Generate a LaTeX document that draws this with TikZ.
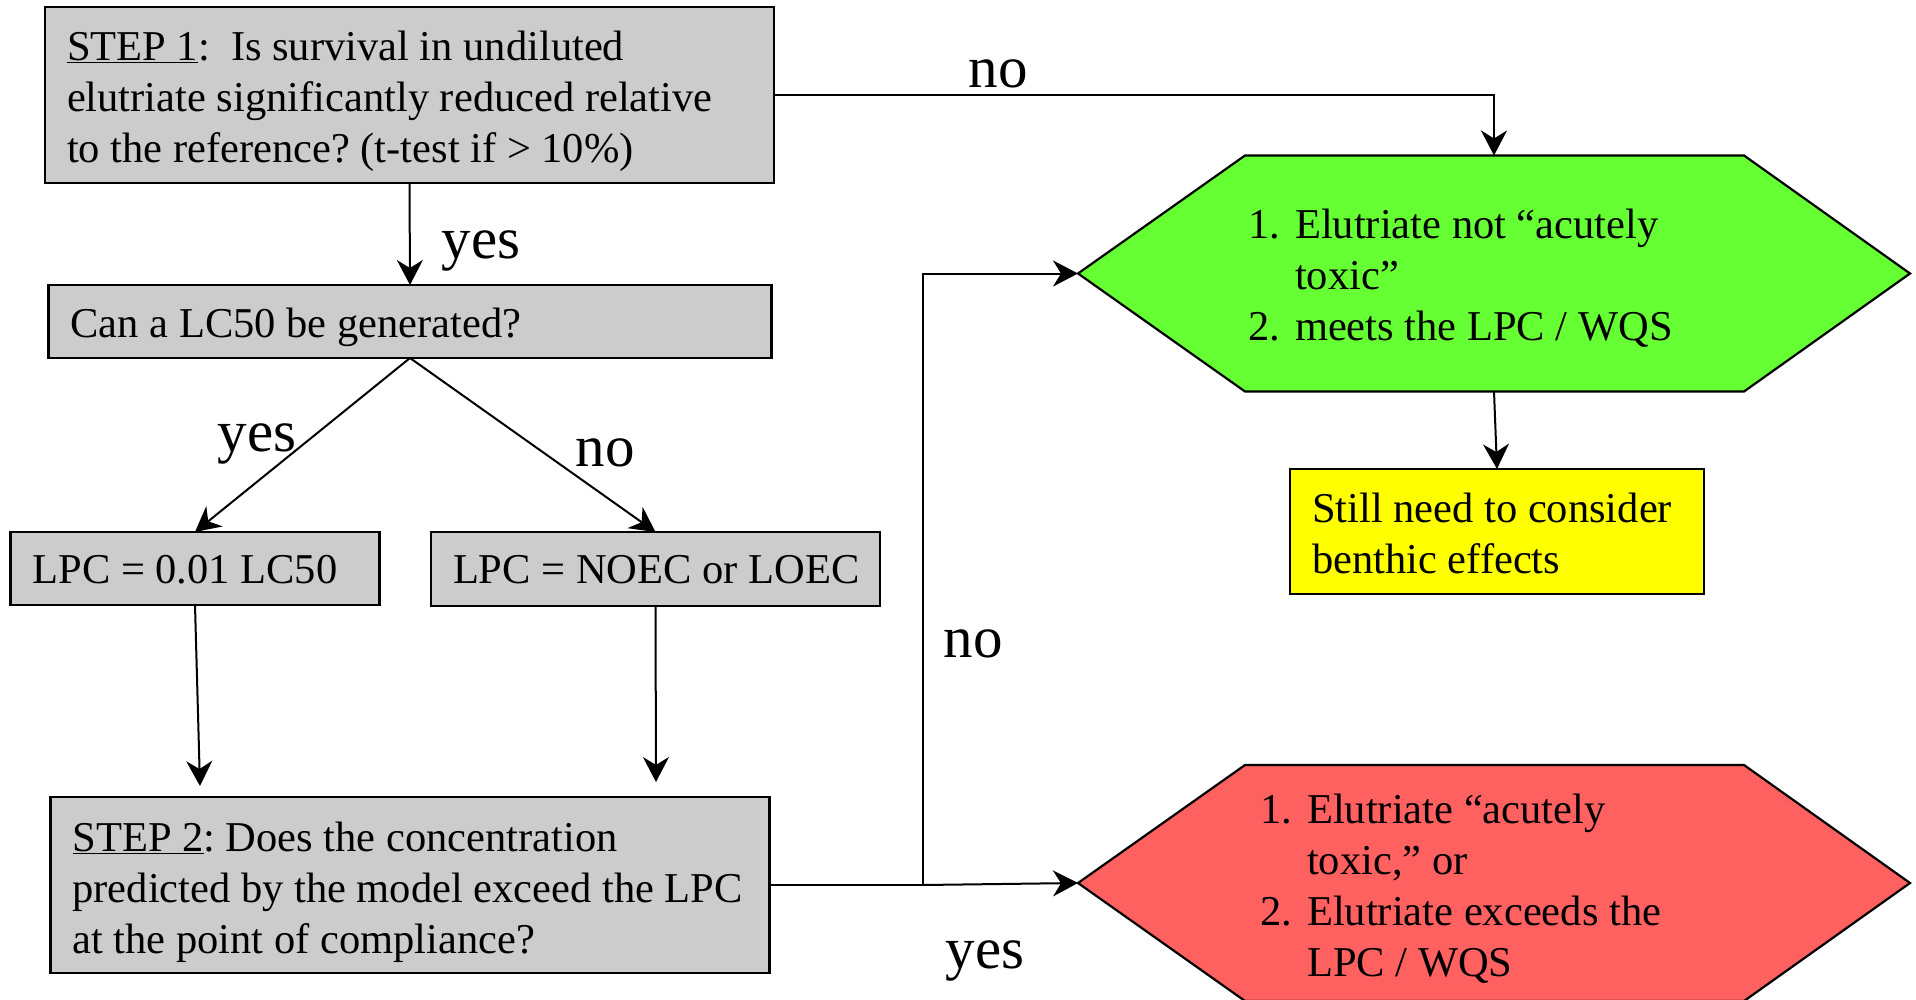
\documentclass[tikz,border=0pt]{standalone}
\usepackage{fontspec}
\setmainfont{Liberation Serif}
\usetikzlibrary{arrows.meta,calc}

\definecolor{boxgray}{HTML}{CCCCCC}
\definecolor{okgreen}{HTML}{66FF33}
\definecolor{badred}{HTML}{FF6060}
\definecolor{notey}{HTML}{FFFF00}

\begin{document}
\frenchspacing
\begin{tikzpicture}[x=1pt,y=-1pt,
  txt/.style={font=\fontsize{42.5}{51}\selectfont},
  stepbox/.style={draw, line width=2.6pt, fill=boxgray, anchor=north west,
    inner xsep=22pt, inner ysep=0pt, outer sep=0pt, align=flush left, txt},
  link/.style={line width=2pt},
  arr/.style={link, -{Stealth[length=25pt,width=26pt,inset=8pt]}},
  lbl/.style={font=\fontsize{59}{70}\selectfont, anchor=base, inner sep=0pt},
  hexarea/.style={minimum width=832pt, minimum height=236pt, inner sep=0pt, outer sep=0pt},
  hexline/.style={draw, line width=2.2pt, line join=miter},
  hextext/.style={txt, anchor=base west, inner sep=0pt},
]
\useasboundingbox (0,0) rectangle (1916,999);

% outcome hexagons
\node[hexarea] (green) at (1494,273.5) {};
\draw[hexline, fill=okgreen] (green.west) -- ($(green.north west)+(167,0)$)
  -- ($(green.north east)+(-166,0)$) -- (green.east)
  -- ($(green.south east)+(-166,0)$) -- ($(green.south west)+(167,0)$) -- cycle;
\node[hextext] (gtext) at (1248,238) {\begin{tabular}[t]{@{}l@{\hspace{15pt}}l@{}}
  1. & Elutriate not “acutely\\
     & toxic”\\
  2. & meets the LPC / WQS
\end{tabular}};

\node[hexarea] (red) at (1494,883) {};
\draw[hexline, fill=badred] (red.west) -- ($(red.north west)+(167,0)$)
  -- ($(red.north east)+(-166,0)$) -- (red.east)
  -- ($(red.south east)+(-166,0)$) -- ($(red.south west)+(167,0)$) -- cycle;
\node[hextext] (rtext) at (1260,823) {\begin{tabular}[t]{@{}l@{\hspace{15pt}}l@{}}
  1. & Elutriate “acutely\\
     & toxic,” or\\
  2. & Elutriate exceeds the\\
     & LPC / WQS
\end{tabular}};

% decision boxes
\node[stepbox, text width=685pt, text height=53pt, text depth=123pt] (s1) at (45,7)
  {\mbox{\underline{STEP 1}:\ \ Is survival in undiluted}\\
   \mbox{elutriate significantly reduced relative}\\
   \mbox{to the reference? (t-test if > 10\%)}};
\node[stepbox, text width=679pt, text height=52pt, text depth=21pt] (lc) at (48.5,285)
  {\mbox{Can a LC50 be generated?}};
\node[stepbox, text width=325pt, text height=51pt, text depth=22pt] (lpa) at (10.5,532)
  {\mbox{LPC = 0.01 LC50}};
\node[stepbox, text width=405pt, text height=51pt, text depth=23pt] (lpb) at (431,532)
  {\mbox{LPC = NOEC or LOEC}};
\node[stepbox, text width=675pt, text height=54pt, text depth=122pt] (s2) at (50.5,797)
  {\mbox{\underline{STEP 2}: Does the concentration}\\
   \mbox{predicted by the model exceed the LPC}\\
   \mbox{at the point of compliance?}};
\node[stepbox, fill=notey, text width=370pt, text height=53pt, text depth=72pt] (note) at (1290,469)
  {\mbox{Still need to consider}\\ \mbox{benthic effects}};

% connectors
\coordinate (pa) at (200,786);
\coordinate (pb) at (656,782);
\coordinate (jn) at (923,885);
\draw[arr] (s1.east) -| (green.north);
\draw[arr] (s1.south) -- (lc.north);
\draw[arr] (lc.south) -- (lpa.north);
\draw[arr] (lc.south) -- (lpb.north);
\draw[arr] (lpa.south) -- (pa);
\draw[arr] (lpb.south) -- (pb);
\draw[link] (s2.east) -- (jn);
\draw[arr] (jn) |- (green.west);
\draw[arr] (jn) -- (red.west);
\draw[arr] (green.south) -- (note.north);

% branch labels
\node[lbl] (l1) at (998,87) {no};
\node[lbl] (l2) at (481,258) {yes};
\node[lbl] (l3) at (257,451) {yes};
\node[lbl] (l4) at (605,466) {no};
\node[lbl] (l5) at (973,657) {no};
\node[lbl] (l6) at (985,968) {yes};
\end{tikzpicture}
\end{document}
